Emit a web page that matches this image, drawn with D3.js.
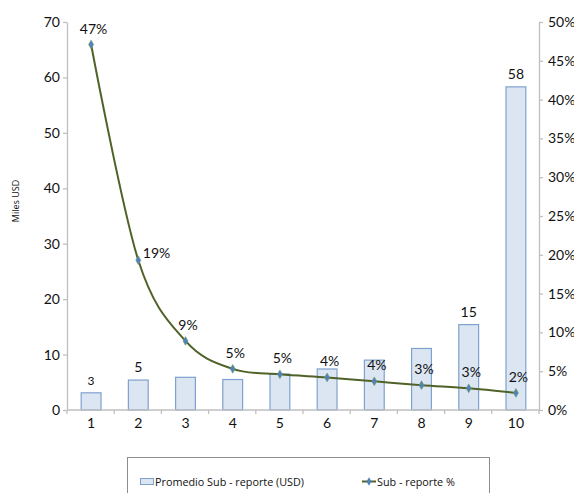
<!DOCTYPE html>
<html>
<head>
<meta charset="utf-8">
<script src="https://cdn.jsdelivr.net/npm/d3@7"></script>
<style>
  html, body { margin: 0; padding: 0; background: #fff; }
  svg { display: block; font-family: Lato, "Open Sans", sans-serif; }
</style>
</head>
<body>
<svg id="chart" width="574" height="493"></svg>
<script>
// Deciles of declared sub-report
const categories = ["1", "2", "3", "4", "5", "6", "7", "8", "9", "10"];
// Average sub-report per decile, thousands of USD
const avgSubreport = [3.1, 5.4, 5.9, 5.5, 6.5, 7.4, 9.0, 11.1, 15.4, 58.3];
// Sub-report as a share, percent
const subreportPct = [47.1, 19.3, 8.9, 5.3, 4.6, 4.2, 3.7, 3.2, 2.8, 2.2];
// Bars that carry a value label
const labeledBars = ["1", "2", "9", "10"];
const leftTicks = [0, 10, 20, 30, 40, 50, 60, 70];
const rightTicks = [0, 5, 10, 15, 20, 25, 30, 35, 40, 45, 50];
const legendLabels = ["Promedio Sub - reporte (USD)", "Sub - reporte %"];
const yTitle = "Miles USD";

const svg = d3.select("#chart");
const plot = { left: 67, right: 539, top: 22, bottom: 410 };
const axisColor = "#bfbfbf";
const barFill = "#dce6f2", barStroke = "#7fa1d0";
const lineColor = "#4f6228", markerColor = "#4f81bd";

const x = d3.scaleBand().domain(categories)
  .range([plot.left, plot.right]).paddingInner(0.58).paddingOuter(0.29);
const yL = d3.scaleLinear().domain([0, 70]).range([plot.bottom, plot.top]);
const yR = d3.scaleLinear().domain([0, 50]).range([plot.bottom, plot.top]);

const bars = categories.map((c, i) => ({ c, v: avgSubreport[i], p: subreportPct[i] }));

// Bars
svg.append("g").selectAll("rect").data(bars).join("rect")
  .attr("x", d => x(d.c) + 0.5)
  .attr("y", d => yL(d.v))
  .attr("width", x.bandwidth())
  .attr("height", d => yL(0) - yL(d.v))
  .attr("fill", barFill).attr("stroke", barStroke).attr("stroke-width", 1.2);

// Bar value labels
svg.append("g").selectAll("text").data(bars.filter(d => labeledBars.includes(d.c))).join("text")
  .attr("x", d => x(d.c) + x.bandwidth() / 2 + 0.5)
  .attr("y", d => yL(d.v) - 8)
  .attr("text-anchor", "middle").attr("font-size", d => d.c === "1" ? 12 : 14).attr("fill", "#111")
  .text(d => d3.format(".0f")(d.v));

// Axes
function styleAxis(g) {
  g.selectAll(".domain").attr("stroke", axisColor).attr("stroke-width", 1.3);
  g.selectAll(".tick line").attr("stroke", axisColor).attr("stroke-width", 1.3);
  g.selectAll(".tick text").attr("fill", "#111").attr("font-size", 14)
    .attr("font-family", "Lato, 'Open Sans', sans-serif");
}

svg.append("g").attr("transform", `translate(${plot.left},0)`)
  .call(d3.axisLeft(yL).tickValues(leftTicks).tickSize(4).tickPadding(3).tickSizeOuter(0))
  .call(styleAxis);

svg.append("g").attr("transform", `translate(${plot.right},0)`)
  .call(d3.axisRight(yR).tickValues(rightTicks).tickSize(4).tickPadding(5).tickSizeOuter(0)
    .tickFormat(d => d + "%"))
  .call(styleAxis);

// Category axis: ticks sit on the band boundaries
const xAxis = svg.append("g").attr("transform", `translate(0,${plot.bottom})`);
xAxis.append("line").attr("x1", plot.left).attr("x2", plot.right)
  .attr("stroke", axisColor).attr("stroke-width", 1.3);
const bounds = d3.range(categories.length + 1).map(i => plot.left + i * x.step());
xAxis.selectAll(".bt").data(bounds).join("line")
  .attr("x1", d => d).attr("x2", d => d).attr("y1", 0).attr("y2", 4)
  .attr("stroke", axisColor).attr("stroke-width", 1.3);
xAxis.selectAll("text").data(categories).join("text")
  .attr("x", d => x(d) + x.bandwidth() / 2 + 0.5)
  .attr("y", 18).attr("text-anchor", "middle").attr("font-size", 14).attr("fill", "#111")
  .text(d => d);

// Y axis title
svg.append("text")
  .attr("transform", "translate(19,201) rotate(-90)")
  .attr("text-anchor", "middle").attr("font-size", 9).attr("fill", "#111")
  .attr("font-family", "'Open Sans', sans-serif")
  .text(yTitle);

// Percentage line (uniform Catmull-Rom smoothing)
const line = d3.line()
  .x(d => x(d.c) + x.bandwidth() / 2 + 0.5)
  .y(d => yR(d.p))
  .curve(d3.curveCatmullRom.alpha(0));
svg.append("path").datum(bars).attr("d", line)
  .attr("fill", "none").attr("stroke", lineColor).attr("stroke-width", 2);

const diamond = d3.symbol().type(d3.symbolDiamond).size(22);
svg.append("g").selectAll("path").data(bars).join("path")
  .attr("transform", d => `translate(${x(d.c) + x.bandwidth() / 2 + 0.5},${yR(d.p)})`)
  .attr("d", diamond).attr("fill", markerColor).attr("stroke", "#6f9a6a").attr("stroke-width", 0.6);

// Percentage labels
svg.append("g").selectAll("text").data(bars).join("text")
  .attr("x", (d, i) => x(d.c) + x.bandwidth() / 2 + (i === 1 ? 5 : 3))
  .attr("y", (d, i) => yR(d.p) - (i === 1 ? 2 : 11))
  .attr("text-anchor", (d, i) => i === 1 ? "start" : "middle")
  .attr("font-size", 14).attr("fill", "#111")
  .text(d => d3.format(".0f")(d.p) + "%");

// Legend
const lg = svg.append("g");
lg.append("rect").attr("x", 127.5).attr("y", 457.5).attr("width", 362).attr("height", 50)
  .attr("fill", "#fff").attr("stroke", "#8c8c8c").attr("stroke-width", 1);
lg.append("rect").attr("x", 140.5).attr("y", 478.5).attr("width", 13).attr("height", 6)
  .attr("fill", barFill).attr("stroke", barStroke);
lg.append("text").attr("x", 155).attr("y", 486).attr("font-size", 10.8).attr("fill", "#111")
  .attr("font-family", "'Open Sans', sans-serif").text(legendLabels[0]);
lg.append("line").attr("x1", 362).attr("x2", 376).attr("y1", 481.5).attr("y2", 481.5)
  .attr("stroke", lineColor).attr("stroke-width", 2);
lg.append("path").attr("transform", "translate(369,481.5)").attr("d", diamond)
  .attr("fill", markerColor);
lg.append("text").attr("x", 377).attr("y", 486).attr("font-size", 10.8).attr("fill", "#111")
  .attr("font-family", "'Open Sans', sans-serif").text(legendLabels[1]);
</script>
</body>
</html>
